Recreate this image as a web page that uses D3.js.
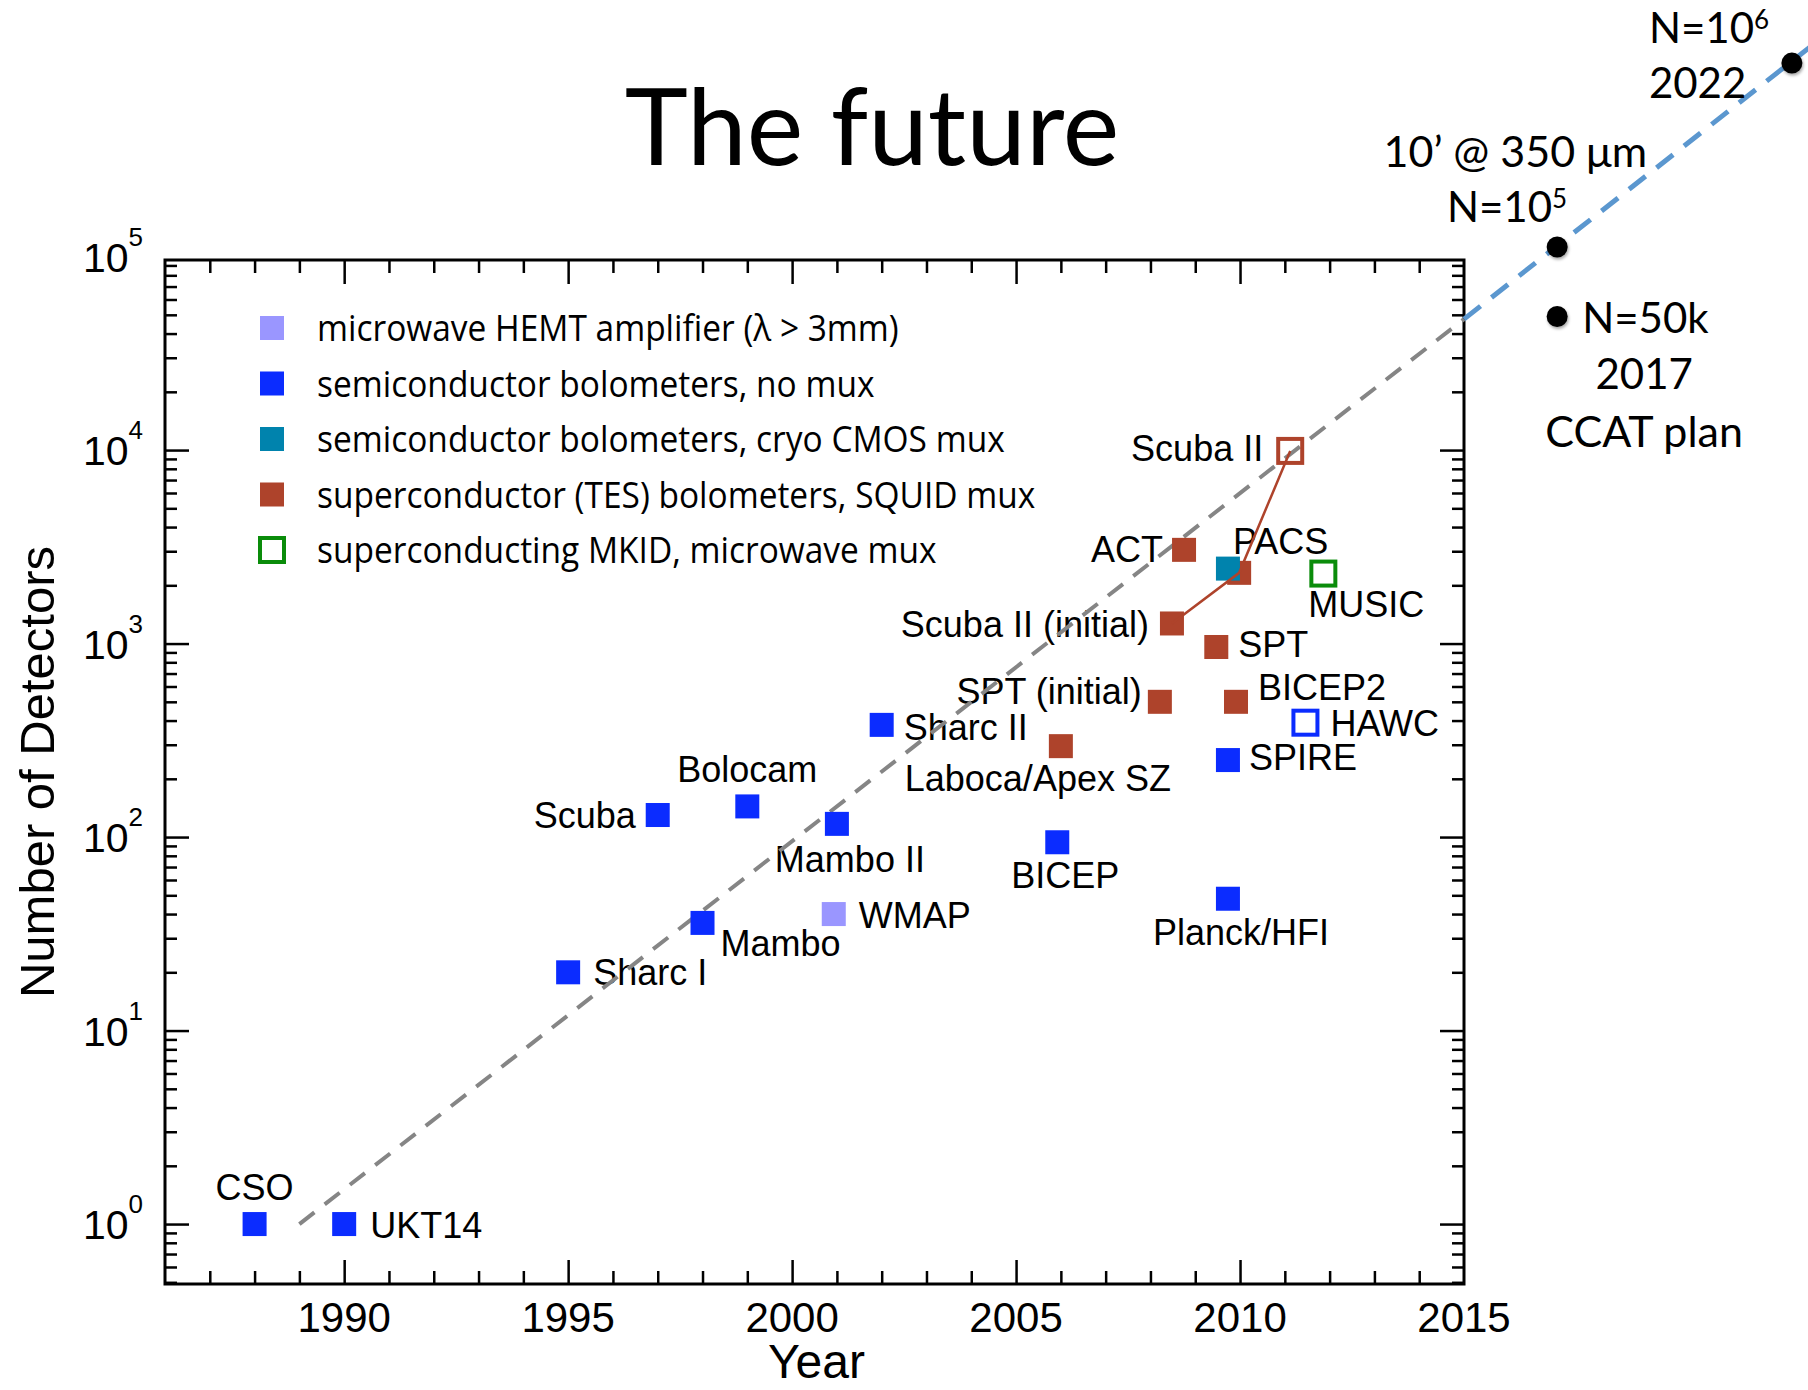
<!DOCTYPE html>
<html><head><meta charset="utf-8">
<script src="https://cdn.jsdelivr.net/npm/d3@7"></script>
<style>html,body{margin:0;padding:0;background:#fff;} svg{display:block}</style>
</head><body>
<svg id="chart" width="1808" height="1390"></svg>
<script>
// ---------------- DATA ----------------
const instrumentNames = ["CSO","UKT14","Sharc I","Scuba","Mambo","Bolocam","Mambo II","WMAP","Sharc II","BICEP",
  "Laboca/Apex SZ","SPT (initial)","Scuba II (initial)","ACT","Scuba II (2010)","PACS","SPT","BICEP2","SPIRE",
  "Planck/HFI","HAWC","MUSIC","Scuba II"];
const instrumentLabels = ["CSO","UKT14","Sharc I","Scuba","Mambo","Bolocam","Mambo II","WMAP","Sharc II","BICEP",
  "Laboca/Apex SZ","SPT (initial)","Scuba II (initial)","ACT","","PACS","SPT","BICEP2","SPIRE",
  "Planck/HFI","HAWC","MUSIC","Scuba II"];
const instrumentYears = [1988.0,1990.0,1995.0,1997.0,1998.0,1999.0,2001.0,2000.93,2002.0,2005.92,
  2006.0,2008.21,2008.48,2008.75,2009.98,2009.73,2009.47,2009.91,2009.73,
  2009.73,2011.46,2011.86,2011.12];
const instrumentDetectors = [1,1,20,130,36,144,117,40,380,94,
  295,500,1270,3050,2320,2440,960,500,250,
  48,390,2300,9900];
// 0 HEMT, 1 semiconductor no mux, 2 semiconductor cryo CMOS mux, 3 TES/SQUID, 4 MKID
const instrumentTypes = [1,1,1,1,1,1,1,0,1,1,
  3,3,3,3,3,2,3,3,1,
  1,1,4,3];
const instrumentOpen = [false,false,false,false,false,false,false,false,false,false,
  false,false,false,false,false,false,false,false,false,
  false,true,true,true];
const categoryLabels = ["microwave HEMT amplifier (\u03bb > 3mm)","semiconductor bolometers, no mux",
  "semiconductor bolometers, cryo CMOS mux","superconductor (TES) bolometers, SQUID mux",
  "superconducting MKID, microwave mux"];
const scubaIIPath = ["Scuba II (initial)","Scuba II (2010)","Scuba II"];
const trendYears = [1989, 2015];
const trendDetectors = [1, 47500];
const futureTrendYears = [2015, 2022.8];
const futureTrendDetectors = [47500, 1250000];
const futureYears = [2017.08, 2017.08, 2022.32];
const futureDetectors = [112000, 49000, 1000000];
const xTickYears = [1990,1995,2000,2005,2010,2015];
const yTickDecades = [0,1,2,3,4,5];

// ---------------- STYLE / LAYOUT ----------------
const typeColors = ["#9a96ff","#0b2cff","#0083ad","#ae432b","#0a8c0a"];
const labelPlacement = {
  "CSO":["middle",0,-24], "UKT14":["start",26,14], "Sharc I":["start",25,13], "Scuba":["end",-22,13],
  "Mambo":["start",18,33], "Bolocam":["middle",0,-24], "Mambo II":["middle",13,48], "WMAP":["start",25,14],
  "Sharc II":["start",22,15], "BICEP":["middle",8,46], "Laboca/Apex SZ":["middle",-23,45],
  "SPT (initial)":["end",-18,2], "Scuba II (initial)":["end",-23,14], "ACT":["end",-21,12],
  "PACS":["start",5,-15], "SPT":["start",22,10], "BICEP2":["start",22,-2], "SPIRE":["start",21,10],
  "Planck/HFI":["middle",13,46], "HAWC":["start",25,13], "MUSIC":["start",-15,43], "Scuba II":["end",-27,10]
};
const L = 165, R = 1464, T = 260, B = 1284;
const sq = 24;

const svg = d3.select("#chart");
const x = d3.scaleLinear().domain([1986, 2015]).range([L, R]);
const y = d3.scaleLog().domain([0.49, 96000]).range([B, T]);

const defs = svg.append("defs");
const f = defs.append("filter").attr("id","sh").attr("x","-50%").attr("y","-50%").attr("width","200%").attr("height","200%");
f.append("feDropShadow").attr("dx",1).attr("dy",2).attr("stdDeviation",1.5).attr("flood-color","#000").attr("flood-opacity",0.35);

// title
svg.append("text").attr("x", 872).attr("y", 165).attr("text-anchor","middle")
  .attr("font-family","Lato, 'Open Sans', sans-serif").attr("font-size",107).attr("fill","#000")
  .text("The future");

// ---- axes ticks ----
const allYears = d3.range(1987, 2015);
const minorYears = allYears.filter(v => v % 5 !== 0);
const majorYears = xTickYears.filter(v => v > 1986 && v < 2015);
const minorVals = [];
for (let d = -1; d <= 4; d++) for (let m = 2; m <= 9; m++) {
  const v = m * Math.pow(10, d);
  if (v >= y.domain()[0] && v <= y.domain()[1]) minorVals.push(v);
}
const majorVals = yTickDecades.map(d => Math.pow(10, d)).filter(v => v >= y.domain()[0] && v <= y.domain()[1]);

function styleAxis(g) {
  g.select(".domain").remove();
  g.selectAll(".tick line").attr("stroke","#000").attr("stroke-width",2.5);
  g.selectAll(".tick text").remove();
}
const axes = [
  [d3.axisBottom(x).tickValues(minorYears).tickSize(-13), `translate(0,${B})`],
  [d3.axisBottom(x).tickValues(majorYears).tickSize(-24), `translate(0,${B})`],
  [d3.axisTop(x).tickValues(minorYears).tickSize(-13), `translate(0,${T})`],
  [d3.axisTop(x).tickValues(majorYears).tickSize(-24), `translate(0,${T})`],
  [d3.axisLeft(y).tickValues(minorVals).tickSize(-12), `translate(${L},0)`],
  [d3.axisLeft(y).tickValues(majorVals).tickSize(-24), `translate(${L},0)`],
  [d3.axisRight(y).tickValues(minorVals).tickSize(-12), `translate(${R},0)`],
  [d3.axisRight(y).tickValues(majorVals).tickSize(-24), `translate(${R},0)`]
];
axes.forEach(([ax, tr]) => {
  svg.append("g").attr("transform", tr).call(ax.tickSizeOuter(0)).call(styleAxis);
});
svg.append("rect").attr("x",L).attr("y",T).attr("width",R-L).attr("height",B-T)
  .attr("fill","none").attr("stroke","#000").attr("stroke-width",3);

// tick labels
const helv = "'Liberation Sans', Arial, Helvetica, sans-serif";
svg.append("g").selectAll("text").data(xTickYears).join("text")
  .attr("x", d => x(d)).attr("y", 1332).attr("text-anchor","middle")
  .attr("font-family", helv).attr("font-size", 42).text(d => d);
const yl = svg.append("g").selectAll("text").data(yTickDecades).join("text")
  .attr("x", 143).attr("y", d => y(Math.pow(10,d)) + 15).attr("text-anchor","end")
  .attr("font-family", helv).attr("font-size", 41);
yl.append("tspan").text("10");
yl.append("tspan").attr("font-size", 26).attr("dy", -26).text(d => d);

// axis titles
svg.append("text").attr("x", (L+R)/2 + 2).attr("y", 1378).attr("text-anchor","middle")
  .attr("font-family", helv).attr("font-size", 48).text("Year");
svg.append("text").attr("transform", `translate(54,${(T+B)/2}) rotate(-90)`).attr("text-anchor","middle")
  .attr("font-family", helv).attr("font-size", 49).text("Number of Detectors");

// data labels
const pts = instrumentNames.map((n,i) => ({name:n, label:instrumentLabels[i], year:instrumentYears[i],
  n:instrumentDetectors[i], type:instrumentTypes[i], open:instrumentOpen[i]}));
svg.append("g").selectAll("text").data(pts.filter(p => p.label)).join("text")
  .attr("x", p => x(p.year) + labelPlacement[p.name][1])
  .attr("y", p => y(p.n) + labelPlacement[p.name][2])
  .attr("text-anchor", p => labelPlacement[p.name][0])
  .attr("font-family", helv).attr("font-size", 36).attr("fill","#000")
  .text(p => p.label);

// trend lines
const line = d3.line().x(d => x(d[0])).y(d => y(d[1]));
svg.append("path").attr("d", line(d3.zip(trendYears, trendDetectors)))
  .attr("fill","none").attr("stroke","#858585").attr("stroke-width",4).attr("stroke-dasharray","19 13");
svg.append("path").attr("d", line(d3.zip(futureTrendYears, futureTrendDetectors)))
  .attr("fill","none").attr("stroke","#5b97cf").attr("stroke-width",5).attr("stroke-dasharray","21 14");

// squares (filled, then open)
const g = svg.append("g");
g.selectAll("rect.f").data(pts.filter(p => !p.open)).join("rect").attr("class","f")
  .attr("x", p => x(p.year) - sq/2).attr("y", p => y(p.n) - sq/2)
  .attr("width", sq).attr("height", sq).attr("fill", p => typeColors[p.type]);
g.selectAll("rect.o").data(pts.filter(p => p.open)).join("rect").attr("class","o")
  .attr("x", p => x(p.year) - sq/2).attr("y", p => y(p.n) - sq/2)
  .attr("width", sq).attr("height", sq).attr("fill","none")
  .attr("stroke", p => typeColors[p.type]).attr("stroke-width", 4);

// Scuba II evolution line
const sPts = scubaIIPath.map(n => pts.find(p => p.name === n));
svg.append("path").attr("d", d3.line().x(p => x(p.year)).y(p => y(p.n))(sPts))
  .attr("fill","none").attr("stroke","#ae432b").attr("stroke-width",2.5);

// future points
svg.append("g").selectAll("circle").data(d3.zip(futureYears, futureDetectors)).join("circle")
  .attr("cx", d => x(d[0])).attr("cy", d => y(d[1])).attr("r", 10.5).attr("fill","#000")
  .attr("filter","url(#sh)");

// annotations
const cal = "Lato, 'Open Sans', sans-serif";
function ann(xp, yp, anchor, parts, fs) {
  const t = svg.append("text").attr("x", xp).attr("y", yp).attr("text-anchor", anchor)
    .attr("font-family", cal).attr("font-size", fs || 42).attr("fill","#000");
  parts.forEach(p => {
    const s = t.append("tspan").text(p.t);
    if (p.sup) s.attr("font-size", 26).attr("dy", -14);
  });
}
const p6 = [x(futureYears[2]), y(futureDetectors[2])];
const p5 = [x(futureYears[0]), y(futureDetectors[0])];
const p50 = [x(futureYears[1]), y(futureDetectors[1])];
ann(p6[0] - 143, p6[1] - 20, "start", [{t:"N=10"},{t:"6",sup:true}]);
ann(p6[0] - 143, p6[1] + 35, "start", [{t:"2022"}]);
ann(p5[0] + 90, p5[1] - 80, "end", [{t:"10\u2019 @ 350 \u03bcm"}], 43);
ann(p5[0] + 10, p5[1] - 25, "end", [{t:"N=10"},{t:"5",sup:true}]);
ann(p50[0] + 25, p50[1] + 16, "start", [{t:"N=50k"}]);
ann(p50[0] + 87, p50[1] + 72, "middle", [{t:"2017"}]);
ann(p50[0] + 87, p50[1] + 130, "middle", [{t:"CCAT plan"}], 43);

// legend
const legY0 = 328, legDy = 55.5;
const leg = svg.append("g").selectAll("g").data(categoryLabels).join("g")
  .attr("transform", (d,i) => `translate(0,${legY0 + i*legDy})`);
leg.append("rect").attr("x", 272 - 12).attr("y", -12).attr("width", 24).attr("height", 24)
  .attr("fill", (d,i) => i === 4 ? "none" : typeColors[i])
  .attr("stroke", (d,i) => i === 4 ? typeColors[4] : "none").attr("stroke-width", 4);
const lt = leg.append("text").attr("x", 0).attr("y", 0)
  .attr("font-family","'Open Sans', sans-serif").attr("font-size", 36).attr("fill","#000")
  .text(d => d);
const w0 = lt.nodes()[0].getComputedTextLength();
const k = 582 / w0;
lt.attr("transform", `translate(317,13) scale(${k},1)`);
</script>
</body></html>
